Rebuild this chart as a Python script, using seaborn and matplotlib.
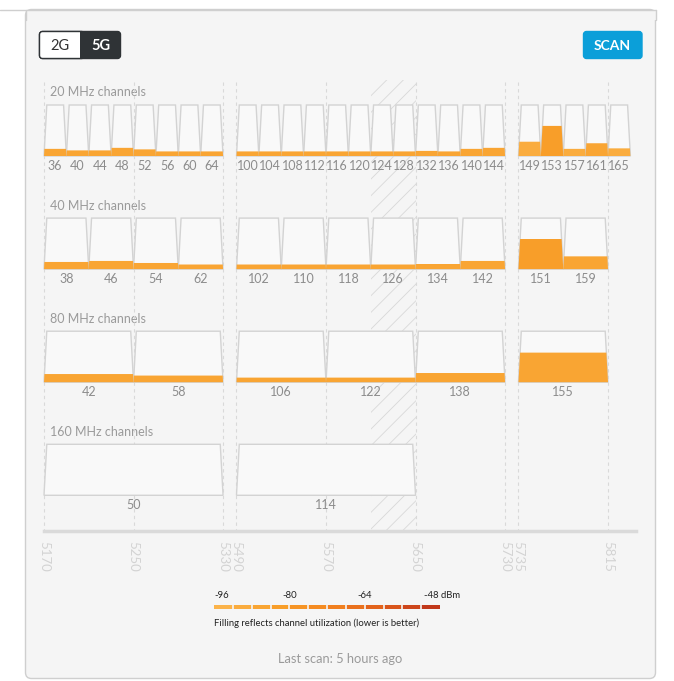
import numpy as np
import seaborn as sns
import matplotlib.pyplot as plt
from matplotlib.patches import FancyBboxPatch, Rectangle
from matplotlib.colors import ListedColormap

# channel data (utilization in % of bar height, signal in dBm)
ch20 = [36, 40, 44, 48, 52, 56, 60, 64,
        100, 104, 108, 112, 116, 120, 124, 128, 132, 136, 140, 144,
        149, 153, 157, 161, 165]
util20 = [14, 11, 11, 16, 13, 9, 9, 9,
          9, 9, 9, 9, 9, 9, 9, 9, 10, 9, 14, 16,
          28, 59, 14, 25, 15]
sig20 = [-88, -88, -88, -86, -88, -88, -88, -88,
         -88, -88, -88, -88, -88, -88, -88, -88, -88, -88, -88, -88,
         -92, -84, -90, -86, -90]

ch40 = [38, 46, 54, 62, 102, 110, 118, 126, 134, 142, 151, 159]
util40 = [14, 16, 12, 9, 9, 9, 9, 9, 10, 16, 59, 25]
sig40 = [-88, -88, -88, -88, -88, -88, -88, -88, -88, -88, -84, -88]

ch80 = [42, 58, 106, 122, 138, 155]
util80 = [16, 13, 9, 9, 18, 58]
sig80 = [-88, -88, -88, -88, -86, -86]

ch160 = [50, 114]
util160 = [0, 0]
sig160 = [-96, -96]

freq_ticks = [5170, 5250, 5330, 5490, 5570, 5650, 5730, 5735, 5815]
dfs_weather = (5610, 5650)
legend_ticks = ["-96", "-80", "-64", "-48 dBm"]

BG = "#f5f5f5"
EDGE = "#d3d3d3"

sns.set_theme(style="white")
plt.rcParams['font.family'] = ['Lato', 'DejaVu Sans']
plt.rcParams['hatch.linewidth'] = 0.6
plt.rcParams['hatch.color'] = '#d8d8d8'

pal = sns.blend_palette(["#fbb34a", "#f8a02a", "#f4861f", "#e2601c", "#c1381a"], 12)


def comp(f):
    # squeeze the gaps between the three 5 GHz bands
    if f <= 5330:
        return f
    if f <= 5730:
        return f - 148
    return f - 141


def sig_color(s):
    i = int((s + 96) // 4)
    return pal[max(0, min(11, i))]


k = 564 / 504.0
fig = plt.figure(figsize=(6.74, 6.81), dpi=100)
fig.patch.set_facecolor("white")

ui = fig.add_axes([0, 0, 1, 1])
ui.set_xlim(0, 674)
ui.set_ylim(681, 0)
ui.axis('off')

# panel
ui.add_patch(FancyBboxPatch((25.5, 9.5), 630, 669, boxstyle="round,pad=0,rounding_size=6",
                            fc=BG, ec="#cfcfcf", lw=1))
ui.add_patch(Rectangle((25.5, 9.5), 630, 10, fc=BG, ec="none"))
ui.plot([0, 655.5], [9.5, 9.5], color="#cfcfcf", lw=1)
ui.plot([25.5, 25.5], [9.5, 20], color="#cfcfcf", lw=1)
ui.plot([655.5, 655.5], [9.5, 20], color="#cfcfcf", lw=1)

# 2G / 5G toggle and scan button
ui.add_patch(FancyBboxPatch((39.5, 31.5), 81, 27, boxstyle="round,pad=0,rounding_size=3",
                            fc="#2f3336", ec="#2f3336", lw=1))
ui.add_patch(FancyBboxPatch((39.5, 31.5), 45, 27, boxstyle="round,pad=0,rounding_size=3",
                            fc="white", ec="#2f3336", lw=1))
ui.add_patch(Rectangle((80, 32.2), 6, 25.6, fc="#2f3336", ec="none"))
ui.text(60, 45.5, "2G", ha="center", va="center", fontsize=10.5, color="#333333")
ui.text(100.5, 45.5, "5G", ha="center", va="center", fontsize=10.5, color="white", fontweight="bold")
ui.add_patch(FancyBboxPatch((583.5, 31.5), 58.5, 27, boxstyle="round,pad=0,rounding_size=3",
                            fc="#0b9fd9", ec="#0b9fd9", lw=1))
ui.text(612.5, 45.5, "SCAN", ha="center", va="center", fontsize=10, color="white", fontweight="bold")

# channel plot, x in squeezed MHz, y in pixels
ax = fig.add_axes([0, 0, 1, 1])
ax.set_xlim(5170 - 44 / k, 5170 + 630 / k)
ax.set_ylim(681, 0)
ax.axis('off')

axis_y = 531
ax.vlines([comp(f) for f in freq_ticks], 82, axis_y, colors="#d9d9d9", lw=0.8,
          linestyles=(0, (3, 3)))
ax.add_patch(Rectangle((comp(dfs_weather[0]), 80), comp(dfs_weather[1]) - comp(dfs_weather[0]),
                       axis_y - 80, fill=False, hatch="//", lw=0, ec="#d8d8d8"))

rows = [("20 MHz channels", 20, ch20, util20, sig20),
        ("40 MHz channels", 40, ch40, util40, sig40),
        ("80 MHz channels", 80, ch80, util80, sig80),
        ("160 MHz channels", 160, ch160, util160, sig160)]
H = 51
inset = 2.5
for r, (title, width, chans, utils, sigs) in enumerate(rows):
    top = 105 + r * 113.1
    bottom = top + H
    ui.text(50.5, top - 12.5, title, ha="left", va="center", fontsize=9, color="#9a9a9a")
    for ch, u, s in zip(chans, utils, sigs):
        c = comp(5000 + 5 * ch)
        lo, hi = c - width / 2, c + width / 2
        ax.fill([lo, lo + inset, hi - inset, hi], [bottom, top, top, bottom],
                fc="#f9f9f9", ec=EDGE, lw=1, zorder=2)
        if u > 0:
            fu = u / 100.0
            ax.fill([lo, lo + inset * fu, hi - inset * fu, hi],
                    [bottom, bottom - fu * H, bottom - fu * H, bottom],
                    fc=sig_color(s), ec="none", zorder=3)
        ax.text(c, bottom + 9.5, str(ch), ha="center", va="center", fontsize=9,
                color="#8c8c8c", zorder=4)

# frequency axis
axf = fig.add_axes([0, (681 - axis_y) / 681.0, 1, 0.0001], sharex=ax)
axf.patch.set_alpha(0)
for side in ["top", "left", "right"]:
    axf.spines[side].set_visible(False)
axf.spines["bottom"].set_color("#dadada")
axf.spines["bottom"].set_linewidth(2.5)
axf.spines["bottom"].set_bounds(5170, comp(5840))
axf.set_yticks([])
axf.set_xticks([comp(f) for f in freq_ticks])
axf.set_xticklabels([str(f) for f in freq_ticks], rotation=-90, fontsize=9.5, color="#d3d3d3")
axf.tick_params(axis="x", length=0, pad=7)

# legend strip
axl = fig.add_axes([214 / 674.0, (681 - 608.5) / 681.0, 226 / 674.0, 4 / 681.0])
sns.heatmap(np.arange(12)[None, :], cmap=ListedColormap(pal), cbar=False,
            linewidths=0, ax=axl, xticklabels=False, yticklabels=False)
axl.vlines(np.arange(1, 12), 0, 1, colors=BG, lw=1.2)
for x, t in zip([214, 282, 357, 424], legend_ticks):
    ui.text(x, 596, t, ha="left", va="center", fontsize=6.8, color="#222222")
ui.text(214, 623, "Filling reflects channel utilization (lower is better)", ha="left",
        va="center", fontsize=6.8, color="#222222")
ui.text(340.5, 659, "Last scan: 5 hours ago", ha="center", va="center", fontsize=9.3,
        color="#9a9a9a")

fig.savefig("out.png", dpi=100)
